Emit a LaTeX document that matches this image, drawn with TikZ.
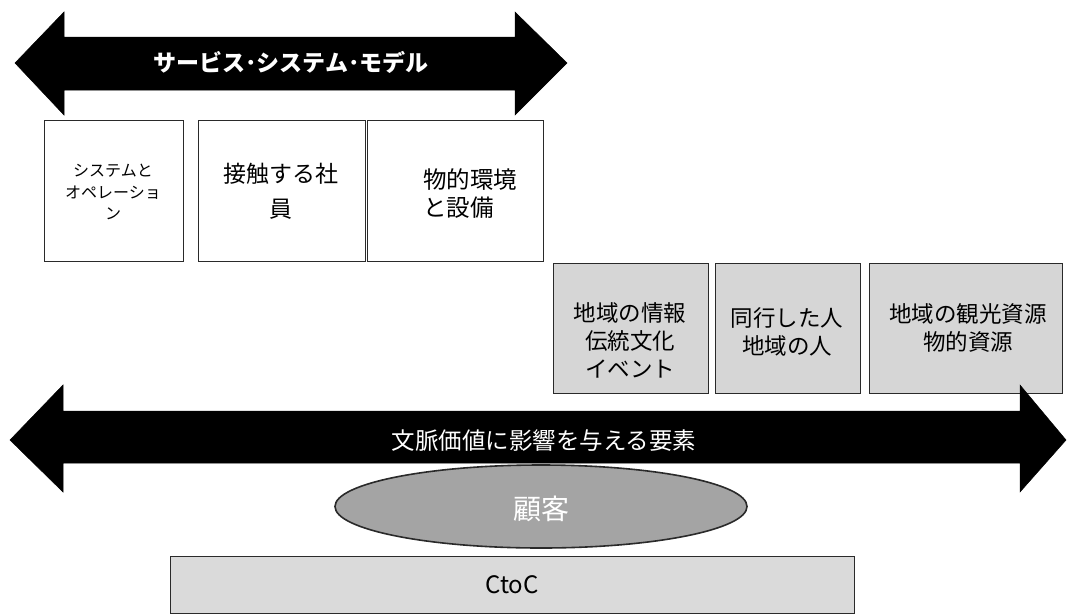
\documentclass[tikz,border=0pt]{standalone}
\usepackage{fontspec}
\newfontfamily\jp{Noto Sans CJK JP}
\usetikzlibrary{shapes.geometric}
\definecolor{lgray}{HTML}{D6D6D6}
\definecolor{cgray}{HTML}{DADADA}
\definecolor{egray}{HTML}{A4A4A4}
\definecolor{edge}{HTML}{2A2A2A}
\begin{document}
\begin{tikzpicture}[x=1pt,y=-1pt,
  wbox/.style={draw=edge,line width=1pt,fill=white,inner sep=0pt},
  gbox/.style={draw=edge,line width=1pt,fill=lgray,inner sep=0pt},
  txt/.style={font=\jp\fontsize{23}{35}\selectfont,align=center,inner sep=0pt},
  gtxt/.style={font=\jp\fontsize{22.5}{28}\selectfont,align=center,inner sep=0pt},
  arrtxt/.style={font=\jp\bfseries\fontsize{23}{27}\selectfont,text=white,inner sep=0pt},
  bigarrow/.style={fill=black,draw=black,line width=0.5pt}]
\useasboundingbox (0,0) rectangle (1067,613);
\fill[white] (0,0) rectangle (1067,613);

% top arrow
\draw[bigarrow] (15,63) -- (64,12) -- (64,37) -- (515,37) -- (515,12) -- (567,63)
  -- (515,115) -- (515,90) -- (64,90) -- (64,115) -- cycle;
\node[arrtxt] (svc) at (291,62) {サービス･システム･モデル};

% row 1 boxes
\node[wbox,minimum width=139pt,minimum height=141pt] (b1) at (113.5,190.5) {};
\node[wbox,minimum width=167pt,minimum height=141pt] (b2) at (281.5,191) {};
\node[wbox,minimum width=176pt,minimum height=141pt] (b3) at (455,191) {};
\node[font=\jp\fontsize{16}{21.5}\selectfont,align=center,inner sep=0pt] (t1) at (113,192) {システムと\\オペレーショ\\ン};
\node[txt] (t2) at (281,191) {接触する社\\員};
\node[txt,font=\jp\fontsize{23.5}{28}\selectfont,align=left,anchor=west] (t3) at (423,194) {物的環境\\と設備};

% row 2 boxes
\node[gbox,minimum width=155pt,minimum height=130pt] (g1) at (630.5,328) {};
\node[gbox,minimum width=145pt,minimum height=130pt] (g2) at (787.5,328) {};
\node[gbox,minimum width=193pt,minimum height=130pt] (g3) at (965.5,328) {};
\node[gtxt] (s1) at (630,340) {地域の情報\\伝統文化\\イベント};
\node[gtxt] (s2) at (787,332) {同行した人\\地域の人};
\node[gtxt] (s3) at (968,328) {地域の観光資源\\物的資源};

% bottom arrow
\draw[bigarrow] (10,440) -- (63,385) -- (63,411) -- (1020,411) -- (1020,385) -- (1066,440)
  -- (1020,492) -- (1020,463) -- (63,463) -- (63,492) -- cycle;
\node[arrtxt,font=\jp\fontsize{23.5}{27}\selectfont] (ctx) at (544,441) {文脈価値に影響を与える要素};

% customer ellipse
\node[ellipse,draw=edge,line width=1.6pt,fill=egray,minimum width=412pt,minimum height=83pt,inner sep=0pt] (cust) at (541,506.5) {};
\node[font=\jp\fontsize{28}{32}\selectfont,text=white,inner sep=0pt] (custt) at (541,509) {顧客};

% CtoC box
\node[draw=edge,line width=1pt,fill=cgray,minimum width=684pt,minimum height=57pt,inner sep=0pt] (ctoc) at (512,585) {};
\node[font=\jp\fontsize{24}{28}\selectfont,inner sep=0pt] (ctoct) at (512,585) {CtoC};
\end{tikzpicture}
\end{document}
